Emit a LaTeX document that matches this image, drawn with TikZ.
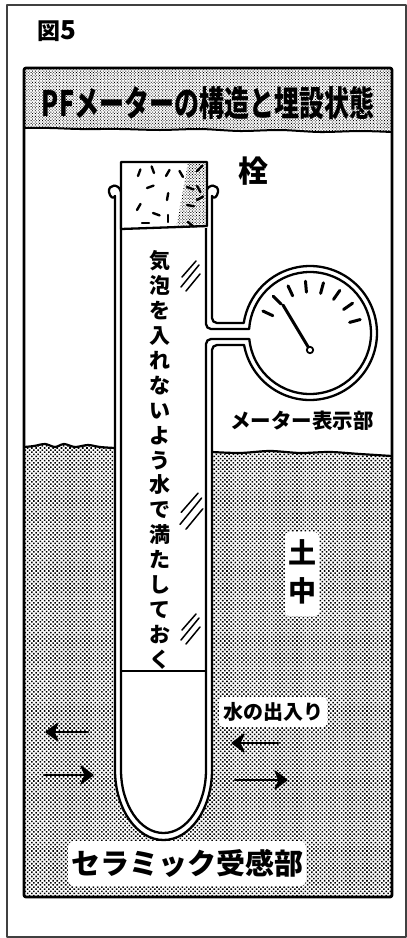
\documentclass[tikz,border=0pt]{standalone}
\usepackage{fontspec}
\newfontfamily\jp{Noto Sans CJK JP}
\usetikzlibrary{patterns.meta,calc}

\begin{document}
\begin{tikzpicture}[x=1pt,y=-1pt,
  line join=round,
  wall/.style={line width=2.3pt, line cap=round},
  jtext/.style={font=\jp\bfseries\fontsize{#1}{#1}\selectfont, inner sep=0pt},
  soil/.style={pattern={Dots[distance=3pt,angle=45,radius=1.1pt]}},
  titleband/.style={pattern={Dots[distance=2pt,angle=45,radius=0.6pt]}},
  flowline/.style={line width=2.6pt, line cap=round},
  flowhead/.style={fill=black, draw=black, line width=1.2pt, line join=round},
  speck/.style={line width=2.4pt, line cap=round},
  dialtick/.style={line width=3pt, line cap=round},
  hatchmark/.pic={
    \draw[line width=1.5pt, line cap=round] (-9,2) -- (5,-14);
    \draw[line width=1.5pt, line cap=round] (-10,12) -- (8,-10);
    \draw[line width=1.5pt, line cap=round] (-5,16) -- (9,-1);
  },
]
\useasboundingbox (0,0) rectangle (407,938);

% outer frame
\draw[line width=1.2pt, black!75] (7,5) rectangle (406,937);

% figure number
\node (fig) at (57,31) {\jp\bfseries{\fontsize{23}{23}\selectfont 図}{\fontsize{26}{26}\selectfont 5}};

% title band
\fill[titleband] (24,68) -- (392,68) -- (392,132) -- plot[smooth] coordinates
  {(392,132) (360,131) (320,132) (280,130) (240,131) (200,129) (160,130) (120,129) (80,129) (50,128) (24,128)} -- cycle;
\draw[line width=2pt] plot[smooth] coordinates
  {(392,132) (360,131) (320,132) (280,130) (240,131) (200,129) (160,130) (120,129) (80,129) (50,128) (24,128)};
\node (title) at (208,103) {\scalebox{1}[1.4]{\jp\bfseries\fontsize{25}{25}\selectfont PFメーターの構造と埋設状態}};

% soil
\fill[soil] (24,447) -- plot[smooth] coordinates
  {(24,447) (34,446) (45,444) (55,447) (64,444) (75,447) (88,445) (100,447) (115,448)}
  -- (212,452) -- plot[smooth] coordinates
  {(212,452) (240,453) (270,451) (300,453) (330,452) (360,454) (392,456)}
  -- (392,897) -- (24,897) -- cycle;
\draw[line width=2.2pt] plot[smooth] coordinates
  {(24,447) (34,446) (45,444) (55,447) (64,444) (75,447) (88,445) (100,447) (115,448)};
\draw[line width=2.2pt] plot[smooth] coordinates
  {(212,452) (240,453) (270,451) (300,453) (330,452) (360,454) (392,456)};

% tube body (white inside)
\fill[white] (115,190) -- (115,770) arc[start angle=180,end angle=0,x radius=48.5,y radius=70] -- (212,190) -- cycle;

% white patches behind the labels in the soil
\fill[white, rounded corners=4pt] (285,532) rectangle (319,616);
\fill[white, rounded corners=4pt] (219,697) rectangle (327,727);
\fill[white, rounded corners=6pt] (68,841) rectangle (306,886);

% panel border
\draw[line width=2.8pt, rounded corners=2pt] (24,68) rectangle (392,897);

% tube: outer wall line with pipe and gauge ring
\draw[wall] (115,196) -- (115,770) arc[start angle=180,end angle=0,x radius=48.5,y radius=70]
  -- (212,350) arc[start angle=180,end angle=270,radius=5]
  -- (244.08,345) arc[start angle=169.68,end angle=-171.42,radius=67]
  -- (217,323) arc[start angle=90,end angle=180,radius=5] -- (212,196);
% tube: inner wall line with pipe and gauge ring
\draw[wall] (121,192) -- (121,770) arc[start angle=180,end angle=0,x radius=42.5,y radius=63]
  -- (206,344) arc[start angle=180,end angle=270,radius=5]
  -- (249.3,339) arc[start angle=174.35,end angle=-176.24,radius=61]
  -- (211,329) arc[start angle=90,end angle=180,radius=5] -- (206,192);
% rim lips
\draw[wall] (121,192) .. controls (119,183) and (108,184) .. (109,192) .. controls (110,198) and (114,199) .. (115,196);
\draw[wall] (206,192) .. controls (208,183) and (219,184) .. (218,192) .. controls (217,198) and (213,199) .. (212,196);

% water level
\draw[line width=1.2pt] (121,671) -- (206,671);

% plug
\fill[white] (121,162) rectangle (207,228);
\fill[pattern={Dots[distance=2pt,angle=45,radius=0.6pt]}] (188,163) -- (207,163) -- (207,227) -- (176,228) -- cycle;
\draw[wall] (121,229) -- (121,162) -- (207,162) -- (207,226) -- cycle;
\foreach \x/\y/\a in {138/176/-70, 154/173/-110, 166/176/-60, 183/177/-120, 197/171/-45,
  147/188/-20, 187/187/20, 167/200/-80, 137/210/-60, 153/213/20, 187/205/10,
  168/222/-90, 142/223/0, 188/222/40, 197/186/60, 197/200/-30}
  \draw[speck] (\x,\y) -- ++(\a:7);

% gauge face
\coordinate (G) at (310,333);
\coordinate (P) at (310,350);
\coordinate (N) at (283,305);
\foreach \a in {155,135,...,15}
  \draw[dialtick] ($(G)+(-\a:41)$) -- ($(G)+(-\a:52)$);
\draw[line width=3pt, line cap=round] (P) -- (N);
\draw[line width=1.8pt, fill=white] (P) circle[radius=3.2];

% hatching on the glass
\pic at (191,275) {hatchmark};
\pic[scale=1.2] at (192,510) {hatchmark};
\pic at (191,628) {hatchmark};

% labels
\node[jtext=30] (plug) at (253,171) {栓};
\node[jtext=20.5] (meter) at (302,421) {メーター表示部};
\node[font=\jp\bfseries\fontsize{21}{24.9}\selectfont, align=center, inner sep=0pt] (fill) at (160,460)
  {気\\泡\\を\\入\\れ\\な\\い\\よ\\う\\水\\で\\満\\た\\し\\て\\お\\く};
\node[font=\jp\bfseries\fontsize{28}{38}\selectfont, align=center, inner sep=0pt] (ground) at (302,572) {土\\中};
\node[jtext=20] (flow) at (273,712) {水の出入り};
\node[jtext=29] (ceramic) at (187,863) {セラミック受感部};

% water movement arrows: shafts, then bold heads at the tips
\coordinate (a1s) at (88,732);  \coordinate (a1e) at (46,732);
\coordinate (a2s) at (44,775);  \coordinate (a2e) at (93,775);
\coordinate (a3s) at (278,743); \coordinate (a3e) at (232,743);
\coordinate (a4s) at (235,780); \coordinate (a4e) at (287,780);
\draw[flowline] (a1s) -- ($(a1e)+(6,0)$);
\draw[flowline] (a2s) -- ($(a2e)+(-6,0)$);
\draw[flowline] (a3s) -- ($(a3e)+(6,0)$);
\draw[flowline] (a4s) -- ($(a4e)+(-6,0)$);
\filldraw[flowhead] (a1e) -- ++(12,-9) -- ++(-4,9) -- ++(4,9) -- cycle;
\filldraw[flowhead] (a3e) -- ++(12,-9) -- ++(-4,9) -- ++(4,9) -- cycle;
\filldraw[flowhead] (a2e) -- ++(-12,-9) -- ++(4,9) -- ++(-4,9) -- cycle;
\filldraw[flowhead] (a4e) -- ++(-12,-9) -- ++(4,9) -- ++(-4,9) -- cycle;
\end{tikzpicture}
\end{document}
